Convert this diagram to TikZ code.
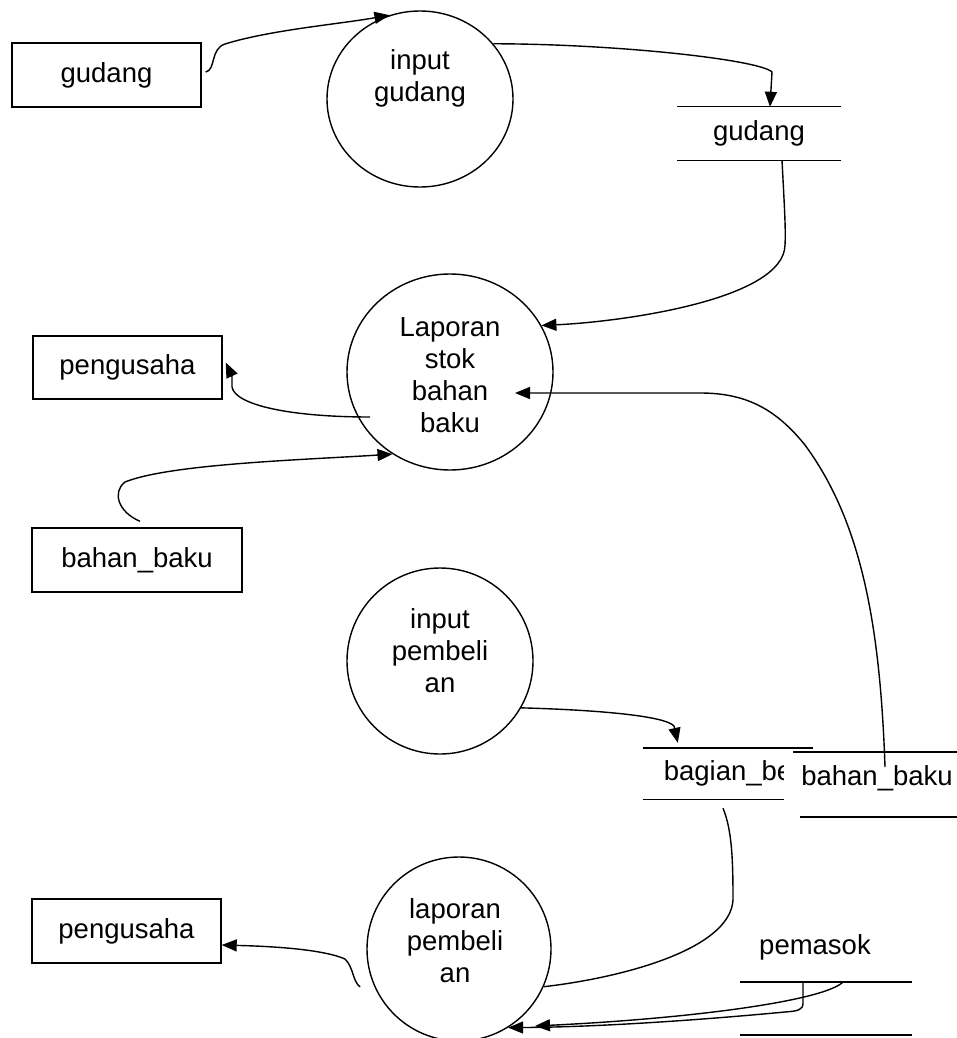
\documentclass[tikz,border=0pt]{standalone}
\usepackage{fontspec}
\setmainfont{Liberation Sans}
\usetikzlibrary{shapes.geometric,arrows.meta}
\begin{document}
\begin{tikzpicture}[x=1pt,y=-1pt,
  every node/.style={font=\fontsize{27.5}{32}\selectfont},
  ent/.style={draw, line width=1.4pt, rectangle, inner sep=0pt},
  proc/.style={draw, line width=1.4pt, ellipse, inner sep=0pt},
  lbl/.style={align=center, inner sep=0pt},
  storetxt/.style={inner sep=0pt},
  flow/.style={line width=1.4pt, -{Triangle[length=15pt,width=12pt]}},
  conn/.style={line width=1.4pt},
  sline/.style={line width=1.4pt}]
\useasboundingbox (0,0) rectangle (957,1038);
\clip (0,0) rectangle (957,1038);

% top row
\node[ent, minimum width=189pt, minimum height=64pt] (g1) at (106.5,75) {gudang};
\node[proc, minimum width=186pt, minimum height=176pt,
      label={[lbl,yshift=21pt]center:input\\gudang}] (ig) at (420,99) {};
\node[storetxt, minimum width=164pt, minimum height=53pt] (gs) at (759,133.5) {gudang};
\draw[sline] (gs.north west) -- (gs.north east) (gs.south west) -- (gs.south east);

% laporan stok
\node[proc, minimum width=206pt, minimum height=196pt,
      label={[lbl,yshift=-3pt]center:Laporan\\stok\\bahan\\baku}] (ls) at (450,372) {};
\node[ent, minimum width=189pt, minimum height=63pt] (p1) at (127.5,367.5) {pengusaha};
\node[ent, minimum width=210pt, minimum height=64pt] (bk) at (137,560) {bahan\_baku};

% input pembelian
\node[proc, minimum width=186pt, minimum height=186pt,
      label={[lbl,yshift=10pt]center:input\\pembeli\\an}] (ip) at (440,661) {};
\node[storetxt, minimum width=170pt, minimum height=51pt] (sb) at (728,773.5) {bagian\_be};
\draw[sline] (sb.north west) -- (sb.north east) (sb.south west) -- ++(141,0);
\fill[white] (784,752) rectangle (957,817);
\node[storetxt] (sk) at (877,778) {bahan\_baku};
\draw[sline] ([shift={(-84,-26)}]sk.center) -- ++(164,0)
             ([shift={(-77,39)}]sk.center) -- ++(157,0);

% laporan pembelian
\node[proc, minimum width=184pt, minimum height=184pt,
      label={[lbl,xshift=-4pt,yshift=8pt]center:laporan\\pembeli\\an}] (lp) at (459,949) {};
\node[ent, minimum width=189pt, minimum height=64pt] (p2) at (126.5,931) {pengusaha};
\node[storetxt] (pm) at (815,947) {pemasok};
\draw[sline] ([shift={(-75,35)}]pm.center) -- ++(172,0)
             ([shift={(-75,88)}]pm.center) -- ++(172,0);

% flows
\draw[flow] ([shift={(4,-3)}]g1.east) .. controls (216,70) and (210,49) .. (225,44)
   .. controls (270,30) and (340,24) .. (ig.110);
\draw[flow] (ig.37) .. controls (620,44) and (760,60) .. (772,72) -- ([xshift=11pt]gs.north);
\draw[flow] ([xshift=23pt]gs.south) .. controls (784,200) and (786,230) .. (785,245)
   .. controls (784,300) and (620,322) .. (ls.27);
\draw[flow] ([shift={(8,-11)}]sk.center) .. controls (880,620) and (860,520) .. (805,445)
   .. controls (775,408) and (745,393) .. (700,393)
   -- ([shift={(65,21)}]ls.center);
\draw[flow] ([shift={(-80,45)}]ls.center) .. controls (290,417) and (235,405) .. (232,387)
   .. controls (232,376) .. ([shift={(3,-5)}]p1.east);
\draw[flow] ([shift={(3,-6)}]bk.north) .. controls (118,512) and (112,492) .. (125,482)
   .. controls (170,464) and (300,460) .. (ls.235);
\draw[flow] (ip.-30) .. controls (600,710) and (665,716) .. (674,726) -- ([shift={(35,-5)}]sb.north west);
\draw[conn] ([shift={(-5,9)}]sb.south) .. controls (732,830) and (733,860) .. (733,900)
   .. controls (730,950) and (620,978) .. (lp.-24);
\draw[flow] ([shift={(-99,38)}]lp.center) .. controls (352,980) and (354,968) .. (345,959)
   .. controls (320,948) and (260,946) .. ([shift={(0,14)}]p2.east);
\draw[flow] ([shift={(28,35)}]pm.center) .. controls (825,1000) and (700,1018) .. ([shift={(76,77)}]lp.center);
\draw[flow] ([shift={(-12,35)}]pm.center) -- (803,1003) .. controls (803,1010) and (798,1011) .. (785,1012)
   .. controls (700,1020) and (600,1027) .. (lp.-58);
\end{tikzpicture}
\end{document}
